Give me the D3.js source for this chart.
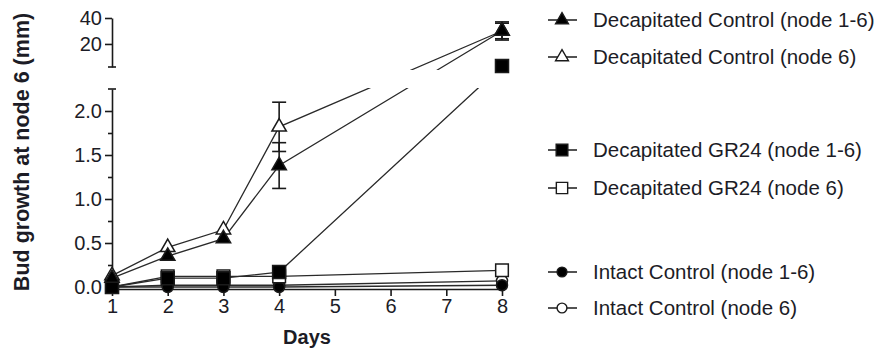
<!DOCTYPE html>
<html>
<head>
<meta charset="utf-8">
<script src="https://cdn.jsdelivr.net/npm/d3@7"></script>
<style>
    body { margin: 0; background: #fff; }
    text { font-family: "Liberation Sans", Arial, sans-serif; fill: #1c1c26; }
</style>
</head>
<body>
<svg id="chart" width="885" height="356"></svg>
<script>
// data
const days = [1, 2, 3, 4, 8];
const decapCtrlAll = [0.10, 0.35, 0.55, 1.38, 30];
const decapCtrlAllErr = [0, 0, 0, 0.26, 6];
const decapCtrlN6 = [0.13, 0.45, 0.65, 1.82, 30];
const decapCtrlN6Err = [0, 0, 0, 0.28, 7];
const decapGrAll = [0, 0.10, 0.10, 0.17, 3];
const decapGrN6 = [0, 0.12, 0.12, 0.12, 0.19];
const intactAll = [0, 0, 0, 0, 0.02];
const intactN6 = [0, 0.02, 0.02, 0.02, 0.07];

const xTicks = [1, 2, 3, 4, 5, 6, 7, 8];
const yLowTicks = [0, 0.5, 1.0, 1.5, 2.0];
const yLowMinor = [0.25, 0.75, 1.25, 1.75];
const yHighTicks = [20, 40];

const seriesNames = [
    "Decapitated Control (node 1-6)",
    "Decapitated Control (node 6)",
    "Decapitated GR24 (node 1-6)",
    "Decapitated GR24 (node 6)",
    "Intact Control (node 1-6)",
    "Intact Control (node 6)"
];

const series = [
    { name: seriesNames[0], values: decapCtrlAll, err: decapCtrlAllErr, shape: d3.symbolTriangle, fill: "#000", size: 90 },
    { name: seriesNames[1], values: decapCtrlN6, err: decapCtrlN6Err, shape: d3.symbolTriangle, fill: "#fff", size: 90 },
    { name: seriesNames[2], values: decapGrAll, err: null, shape: d3.symbolSquare, fill: "#000", size: 170 },
    { name: seriesNames[3], values: decapGrN6, err: null, shape: d3.symbolSquare, fill: "#fff", size: 160 },
    { name: seriesNames[4], values: intactAll, err: null, shape: d3.symbolCircle, fill: "#000", size: 95 },
    { name: seriesNames[5], values: intactN6, err: null, shape: d3.symbolCircle, fill: "#fff", size: 95 }
];

const svg = d3.select("#chart");
const ink = "#1a1a1a";

// scales: x linear in days, y broken into a low and a high segment
const x = d3.scaleLinear().domain([1, 8]).range([112, 502]);
const breakVal = 2.25;
const yLow = d3.scaleLinear().domain([0, breakVal]).range([287, 89]);
const yHigh = d3.scaleLinear().domain([breakVal, 40]).range([67, 18]);
const yPos = v => v <= breakVal ? yLow(v) : yHigh(v);

// clip lines where the axis is broken
const clip = svg.append("clipPath").attr("id", "gapclip");
clip.append("rect").attr("x", 0).attr("y", 0).attr("width", 885).attr("height", 70);
clip.append("rect").attr("x", 0).attr("y", 88).attr("width", 885).attr("height", 268);

// axes
svg.append("g")
    .attr("transform", "translate(0,289)")
    .call(d3.axisBottom(x).tickValues(xTicks).tickFormat(d3.format("d"))
        .tickSize(7).tickSizeOuter(0).tickPadding(3));

svg.append("g")
    .attr("transform", "translate(112,0)")
    .call(d3.axisLeft(yLow).tickValues(yLowTicks).tickFormat(d3.format(".1f"))
        .tickSize(7).tickSizeOuter(0).tickPadding(3));

const yAxisMinor = svg.append("g")
    .attr("transform", "translate(112,0)")
    .call(d3.axisLeft(yLow).tickValues(yLowMinor).tickFormat("").tickSize(4).tickSizeOuter(0));
yAxisMinor.select(".domain").remove();

svg.append("g")
    .attr("transform", "translate(112,0)")
    .call(d3.axisLeft(yHigh).tickValues(yHighTicks).tickSize(7).tickSizeOuter(0).tickPadding(3));

svg.selectAll(".tick text").style("font-size", "20px").attr("fill", "#1c1c26");
svg.selectAll(".domain, .tick line").attr("stroke", ink).attr("stroke-width", 1.6);

// caps at the axis break
[yLow(breakVal), yHigh(breakVal)].forEach(yy => {
    svg.append("line")
        .attr("x1", 108).attr("x2", 116)
        .attr("y1", yy).attr("y2", yy)
        .attr("stroke", ink).attr("stroke-width", 1.6);
});

// axis titles
svg.append("text")
    .attr("transform", "translate(29,152) rotate(-90)")
    .attr("text-anchor", "middle")
    .style("font-size", "21.5px")
    .style("font-weight", "bold")
    .text("Bud growth at node 6 (mm)");

svg.append("text")
    .attr("x", 307).attr("y", 344)
    .attr("text-anchor", "middle")
    .style("font-size", "20px")
    .style("font-weight", "bold")
    .text("Days");

// lines, error bars, markers (drawn bottom series first so the legend's first rows sit on top)
const line = d3.line().x((d, i) => x(days[i])).y(d => yPos(d));
const plot = svg.append("g");
const order = series.slice().reverse();

order.forEach(s => {
    plot.append("path")
        .datum(s.values)
        .attr("d", line)
        .attr("fill", "none")
        .attr("stroke", "#2a2a2a")
        .attr("stroke-width", 1.3)
        .attr("clip-path", "url(#gapclip)");
});

order.forEach(s => {
    if (s.err) {
        s.values.forEach((v, i) => {
            const e = s.err[i];
            if (!e) return;
            const sc = v <= breakVal ? yLow : yHigh;
            const cx = x(days[i]);
            const g = plot.append("g").attr("stroke", ink).attr("stroke-width", 1.6);
            g.append("line").attr("x1", cx).attr("x2", cx).attr("y1", sc(v - e)).attr("y2", sc(v + e));
            [v - e, v + e].forEach(b => {
                g.append("line").attr("x1", cx - 7).attr("x2", cx + 7).attr("y1", sc(b)).attr("y2", sc(b));
            });
        });
    }
    plot.selectAll(null)
        .data(s.values)
        .enter().append("path")
        .attr("d", d3.symbol().type(s.shape).size(s.size))
        .attr("transform", (d, i) => `translate(${x(days[i])},${yPos(d)})`)
        .attr("fill", s.fill)
        .attr("stroke", ink)
        .attr("stroke-width", 1.5);
});

// legend
const legendY = [20, 57, 150, 188, 272, 308];
const legend = svg.append("g");
series.forEach((s, i) => {
    const row = legend.append("g").attr("transform", `translate(0,${legendY[i]})`);
    row.append("line")
        .attr("x1", 548).attr("x2", 577)
        .attr("stroke", ink).attr("stroke-width", 1.5);
    row.append("path")
        .attr("d", d3.symbol().type(s.shape).size(s.size * 0.8))
        .attr("transform", "translate(562,0)")
        .attr("fill", s.fill)
        .attr("stroke", ink)
        .attr("stroke-width", 1.4);
    row.append("text")
        .attr("x", 593).attr("dy", "0.35em")
        .style("font-size", "20.5px")
        .text(s.name);
});
</script>
</body>
</html>
